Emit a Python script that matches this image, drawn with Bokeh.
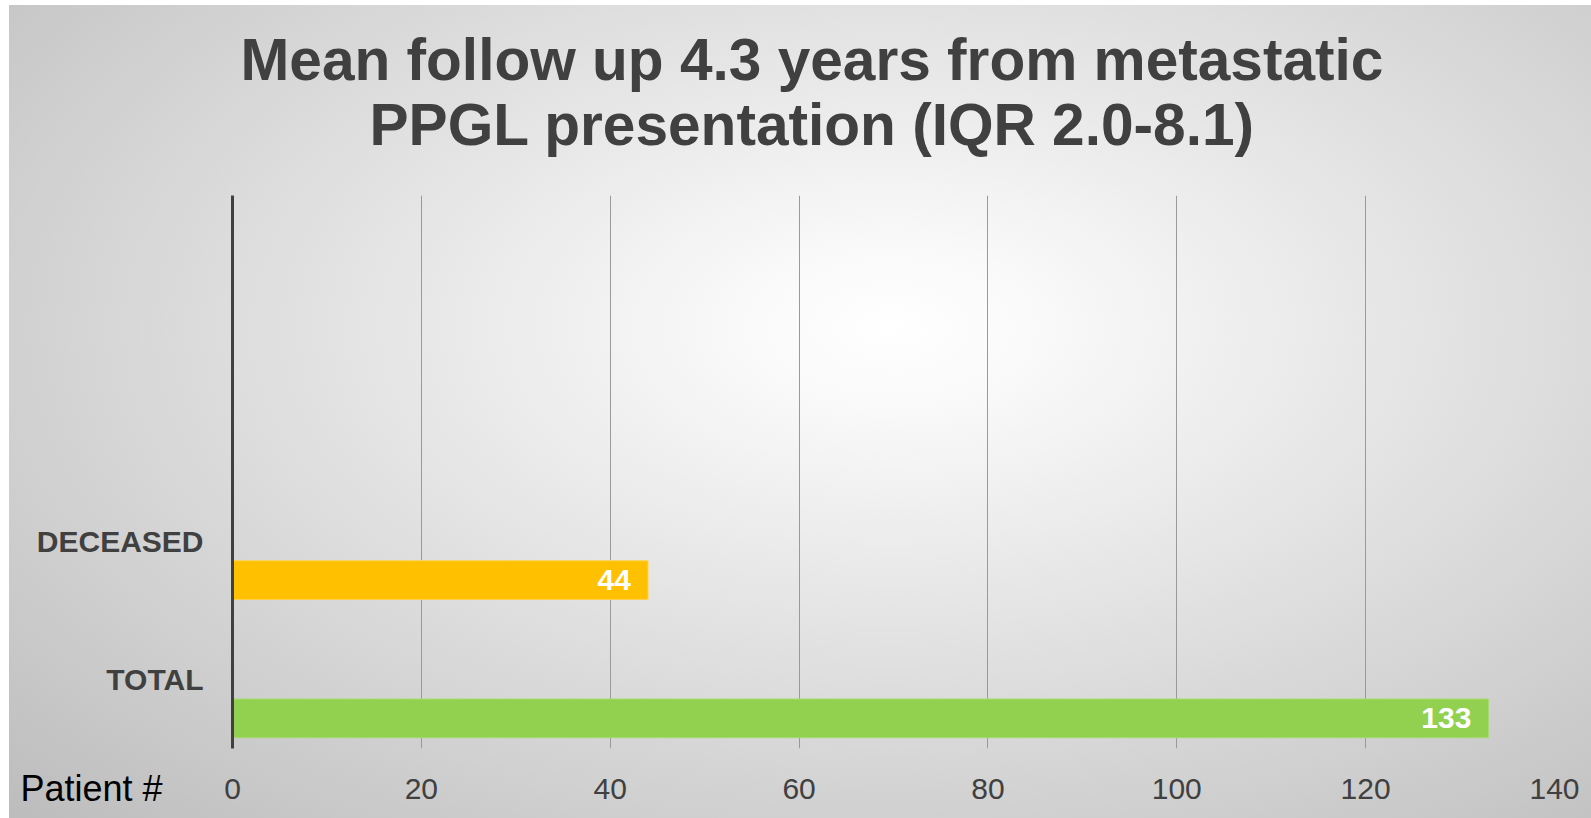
from bokeh.plotting import figure
from bokeh.models import ColumnDataSource, FactorRange, Range1d, Title, FixedTicker
from bokeh.transform import dodge
from bokeh.core.properties import value
from bokeh.embed import file_html
from bokeh.resources import INLINE

# ---- data ----
categories = ["TOTAL", "DECEASED"]
counts = [133, 44]
bar_colors = ["#92D050", "#FFC000"]
edge_colors = ["#A8DA72", "#FFD24D"]
blank_factors = [" ", "  "]
x_ticks = [0, 20, 40, 60, 80, 100, 120, 140]
title_lines = ["Mean follow up 4.3 years from metastatic",
               "PPGL presentation (IQR 2.0-8.1)"]
x_axis_name = "Patient #"

FONT = "Liberation Sans"
DARK = "#404040"

W, H = 1591, 818
p = figure(width=W, height=H, title=None,
           y_range=FactorRange(factors=categories + blank_factors),
           x_range=Range1d(0, 140),
           output_backend="svg", toolbar_location=None,
           min_border_left=232, min_border_right=37,
           min_border_top=195, min_border_bottom=70)

p.background_fill_color = None
p.border_fill_color = None
p.outline_line_color = None
p.styles = {"background": (
    "linear-gradient(#ffffff, #ffffff) left top / 100% 5px no-repeat, "
    "linear-gradient(#ffffff, #ffffff) left top / 9px 100% no-repeat, "
    "radial-gradient(ellipse farthest-corner at 56% 40%, #ffffff 0%, #f9f9f9 12%, #bcbcbc 100%)")}

src = ColumnDataSource(dict(cat=categories, count=counts, color=bar_colors,
                            edge=edge_colors, label=[str(c) for c in counts]))

ypos = dodge("cat", -0.282, range=p.y_range)
p.hbar(y=ypos, left=0, right="count", height=0.28, fill_color="color",
       line_color="edge", line_width=1, source=src)
p.text(x="count", y=ypos, text="label", x_offset=-17, text_align="right",
       text_baseline="middle", text_color="white", text_font=value(FONT),
       text_font_style="bold", text_font_size="30px", source=src)

# x axis
p.xaxis.ticker = FixedTicker(ticks=x_ticks)
p.xaxis.axis_line_color = None
p.xaxis.major_tick_line_color = None
p.xaxis.minor_tick_line_color = None
p.xaxis.major_label_text_font = FONT
p.xaxis.major_label_text_font_size = "30px"
p.xaxis.major_label_text_color = DARK
p.xaxis.major_label_standoff = 24

# y axis
p.yaxis.axis_line_color = DARK
p.yaxis.axis_line_width = 3
p.yaxis.major_tick_line_color = None
p.yaxis.minor_tick_line_color = None
p.yaxis.major_label_text_font = FONT
p.yaxis.major_label_text_font_style = "bold"
p.yaxis.major_label_text_font_size = "30px"
p.yaxis.major_label_text_color = DARK
p.yaxis.major_label_standoff = 23

# grid
p.ygrid.grid_line_color = None
p.xgrid.ticker = FixedTicker(ticks=x_ticks)
p.xgrid.grid_line_color = "#9a9a9a"
p.xgrid.grid_line_width = 1

# title lines: second line nearest the frame
p.add_layout(Title(text=title_lines[1], align="left", offset=137, standoff=78,
                   text_font=FONT, text_font_style="bold", text_font_size="58.6px",
                   text_color=DARK), "above")
p.add_layout(Title(text=title_lines[0], align="left", offset=8, standoff=-82,
                   text_font=FONT, text_font_style="bold", text_font_size="58.6px",
                   text_color=DARK), "above")

# axis name, on the tick-label row left of the frame
p.add_layout(Title(text=x_axis_name, align="left", offset=-212, standoff=-67,
                   vertical_align="top",
                   text_font=FONT, text_font_style="normal", text_font_size="36px",
                   text_color="#000000"), "below")

open("out.html", "w").write(file_html(p, INLINE))
